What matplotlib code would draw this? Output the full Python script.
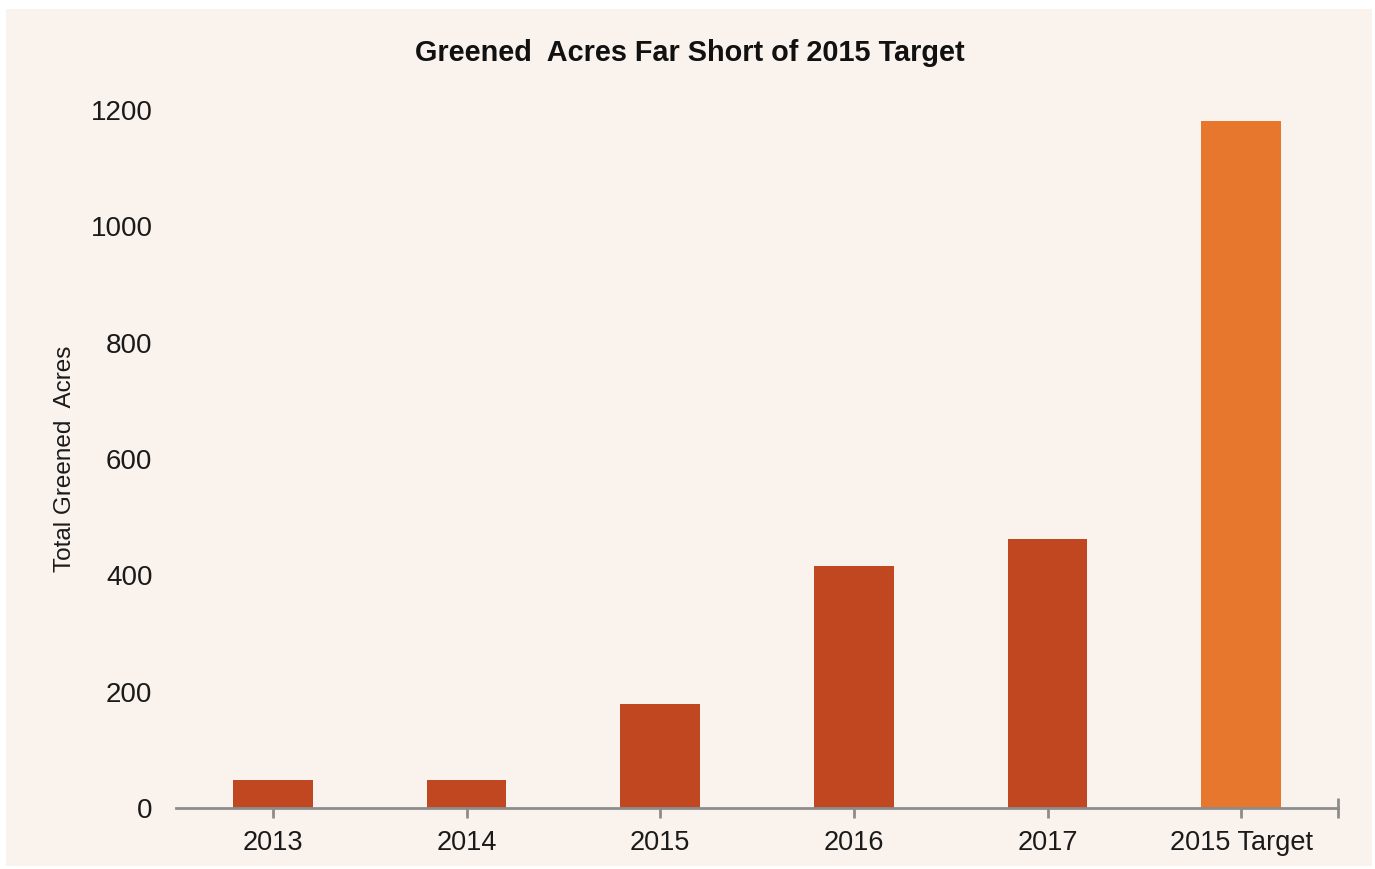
import matplotlib.pyplot as plt
from matplotlib.patches import Rectangle

categories = ['2013', '2014', '2015', '2016', '2017', '2015 Target']
acres = [48, 48, 179, 416, 462, 1181]
bar_colors = ['#C0471F', '#C0471F', '#C0471F', '#C0471F', '#C0471F', '#E8772E']

plt.rcParams['font.family'] = ['Liberation Sans', 'DejaVu Sans']

bg = '#F9F2ED'
fig = plt.figure(figsize=(13.75, 8.69), dpi=100)
fig.patch.set_facecolor('white')
# beige panel with a thin white margin, kept behind the axes
fig.patches.append(Rectangle((6 / 1375, 3 / 869), 1366 / 1375, 857 / 869,
                             transform=fig.transFigure, facecolor=bg,
                             edgecolor='none', zorder=-10))

ax = fig.add_axes([176 / 1375, 1 - 808 / 869, 1162 / 1375, 698 / 869])
ax.set_facecolor('none')
ax.set_zorder(1)

x = range(len(categories))
ax.bar(x, acres, width=0.41, color=bar_colors, zorder=2)

ax.set_xlim(-0.5, 5.5)
ax.set_ylim(0, 1200)
ax.set_yticks([0, 200, 400, 600, 800, 1000, 1200])
ax.set_xticks(list(x) + [5.5])
ax.set_xticklabels(categories + [''])

for side in ['top', 'right', 'left']:
    ax.spines[side].set_visible(False)
ax.spines['bottom'].set_color('#8C8C8C')
ax.spines['bottom'].set_linewidth(2)

ax.tick_params(axis='x', direction='inout', length=14, width=2, color='#8C8C8C',
               labelsize=19.5, pad=9, labelcolor='#1a1a1a')
ax.tick_params(axis='y', length=0, labelsize=20, pad=17, labelcolor='#1a1a1a')

ax.set_ylabel('Total Greened  Acres', fontsize=17.5, color='#1a1a1a')
ax.yaxis.set_label_coords(-0.086, 0.5)

fig.text(0.5015, 1 - 53 / 869, 'Greened  Acres Far Short of 2015 Target',
         ha='center', va='center', fontsize=20.8, fontweight='bold', color='#111111')

fig.savefig('out.png', dpi=100, facecolor=fig.get_facecolor())
